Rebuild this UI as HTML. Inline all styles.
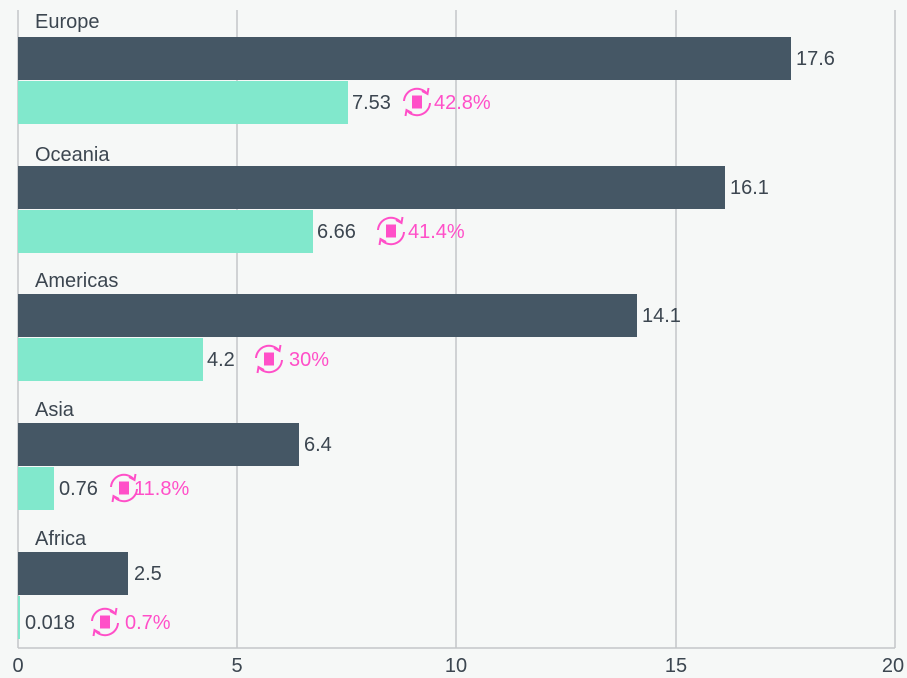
<!DOCTYPE html>
<html><head><meta charset="utf-8"><style>
html,body{margin:0;padding:0;background:#f6f8f7;}
svg{display:block;font-family:"Liberation Sans",sans-serif;}
</style></head><body>
<svg width="907" height="678" viewBox="0 0 907 678">
<rect width="907" height="678" fill="#f6f8f7"/>
<g stroke="#c4c6c8" stroke-width="1.5">
<line x1="237" y1="10" x2="237" y2="648"/>
<line x1="456" y1="10" x2="456" y2="648"/>
<line x1="676" y1="10" x2="676" y2="648"/>
<line x1="895" y1="10" x2="895" y2="648"/>
<line x1="18" y1="10" x2="18" y2="648"/>
<line x1="18" y1="648" x2="895" y2="648"/>
</g>
<g fill="#455765">
<rect x="18" y="37" width="773" height="43"/>
<rect x="18" y="166" width="707" height="43"/>
<rect x="18" y="294" width="619" height="43"/>
<rect x="18" y="423" width="281" height="43"/>
<rect x="18" y="552" width="110" height="43"/>
</g>
<g fill="#81e8cc">
<rect x="18" y="81" width="330" height="43"/>
<rect x="18" y="210" width="295" height="43"/>
<rect x="18" y="338" width="185" height="43"/>
<rect x="18" y="467" width="36" height="43"/>
<rect x="18" y="596" width="2" height="43"/>
</g>
<g font-size="20" fill="#3c4650">
<text x="35" y="28">Europe</text>
<text x="35" y="161">Oceania</text>
<text x="35" y="287">Americas</text>
<text x="35" y="416">Asia</text>
<text x="35" y="545">Africa</text>
<text x="796" y="65">17.6</text>
<text x="730" y="194">16.1</text>
<text x="642" y="322">14.1</text>
<text x="304" y="451">6.4</text>
<text x="134" y="580">2.5</text>
<text x="352" y="109">7.53</text>
<text x="317" y="238">6.66</text>
<text x="207" y="366">4.2</text>
<text x="59" y="495">0.76</text>
<text x="25" y="629">0.018</text>
</g>
<defs>
<g id="ic" fill="none" stroke="#ff4fc8" stroke-width="2">
<path d="M-13,-1 A13,13 0 0 1 10,-8.5"/>
<path d="M13,1 A13,13 0 0 1 -10,8.5"/>
<path d="M5,-11 L10.5,-8 L11.5,-14"/>
<path d="M-5,11 L-10.5,8 L-11.5,14"/>
<rect x="-5" y="-6.5" width="10" height="13" fill="#ff4fc8" stroke="none"/>
</g>
</defs>
<use href="#ic" x="417" y="102"/>
<use href="#ic" x="391" y="231"/>
<use href="#ic" x="269" y="359"/>
<use href="#ic" x="124" y="488"/>
<use href="#ic" x="105" y="622"/>
<g font-size="20" fill="#ff4fc8">
<text x="434" y="109">42.8%</text>
<text x="408" y="238">41.4%</text>
<text x="289" y="366">30%</text>
<text x="134" y="495">11.8%</text>
<text x="125" y="629">0.7%</text>
</g>
<g font-size="20" fill="#3c4650" text-anchor="middle">
<text x="18" y="672">0</text>
<text x="237" y="672">5</text>
<text x="456" y="672">10</text>
<text x="676" y="672">15</text>
<text x="893" y="672">20</text>
</g>
</svg>
</body></html>
